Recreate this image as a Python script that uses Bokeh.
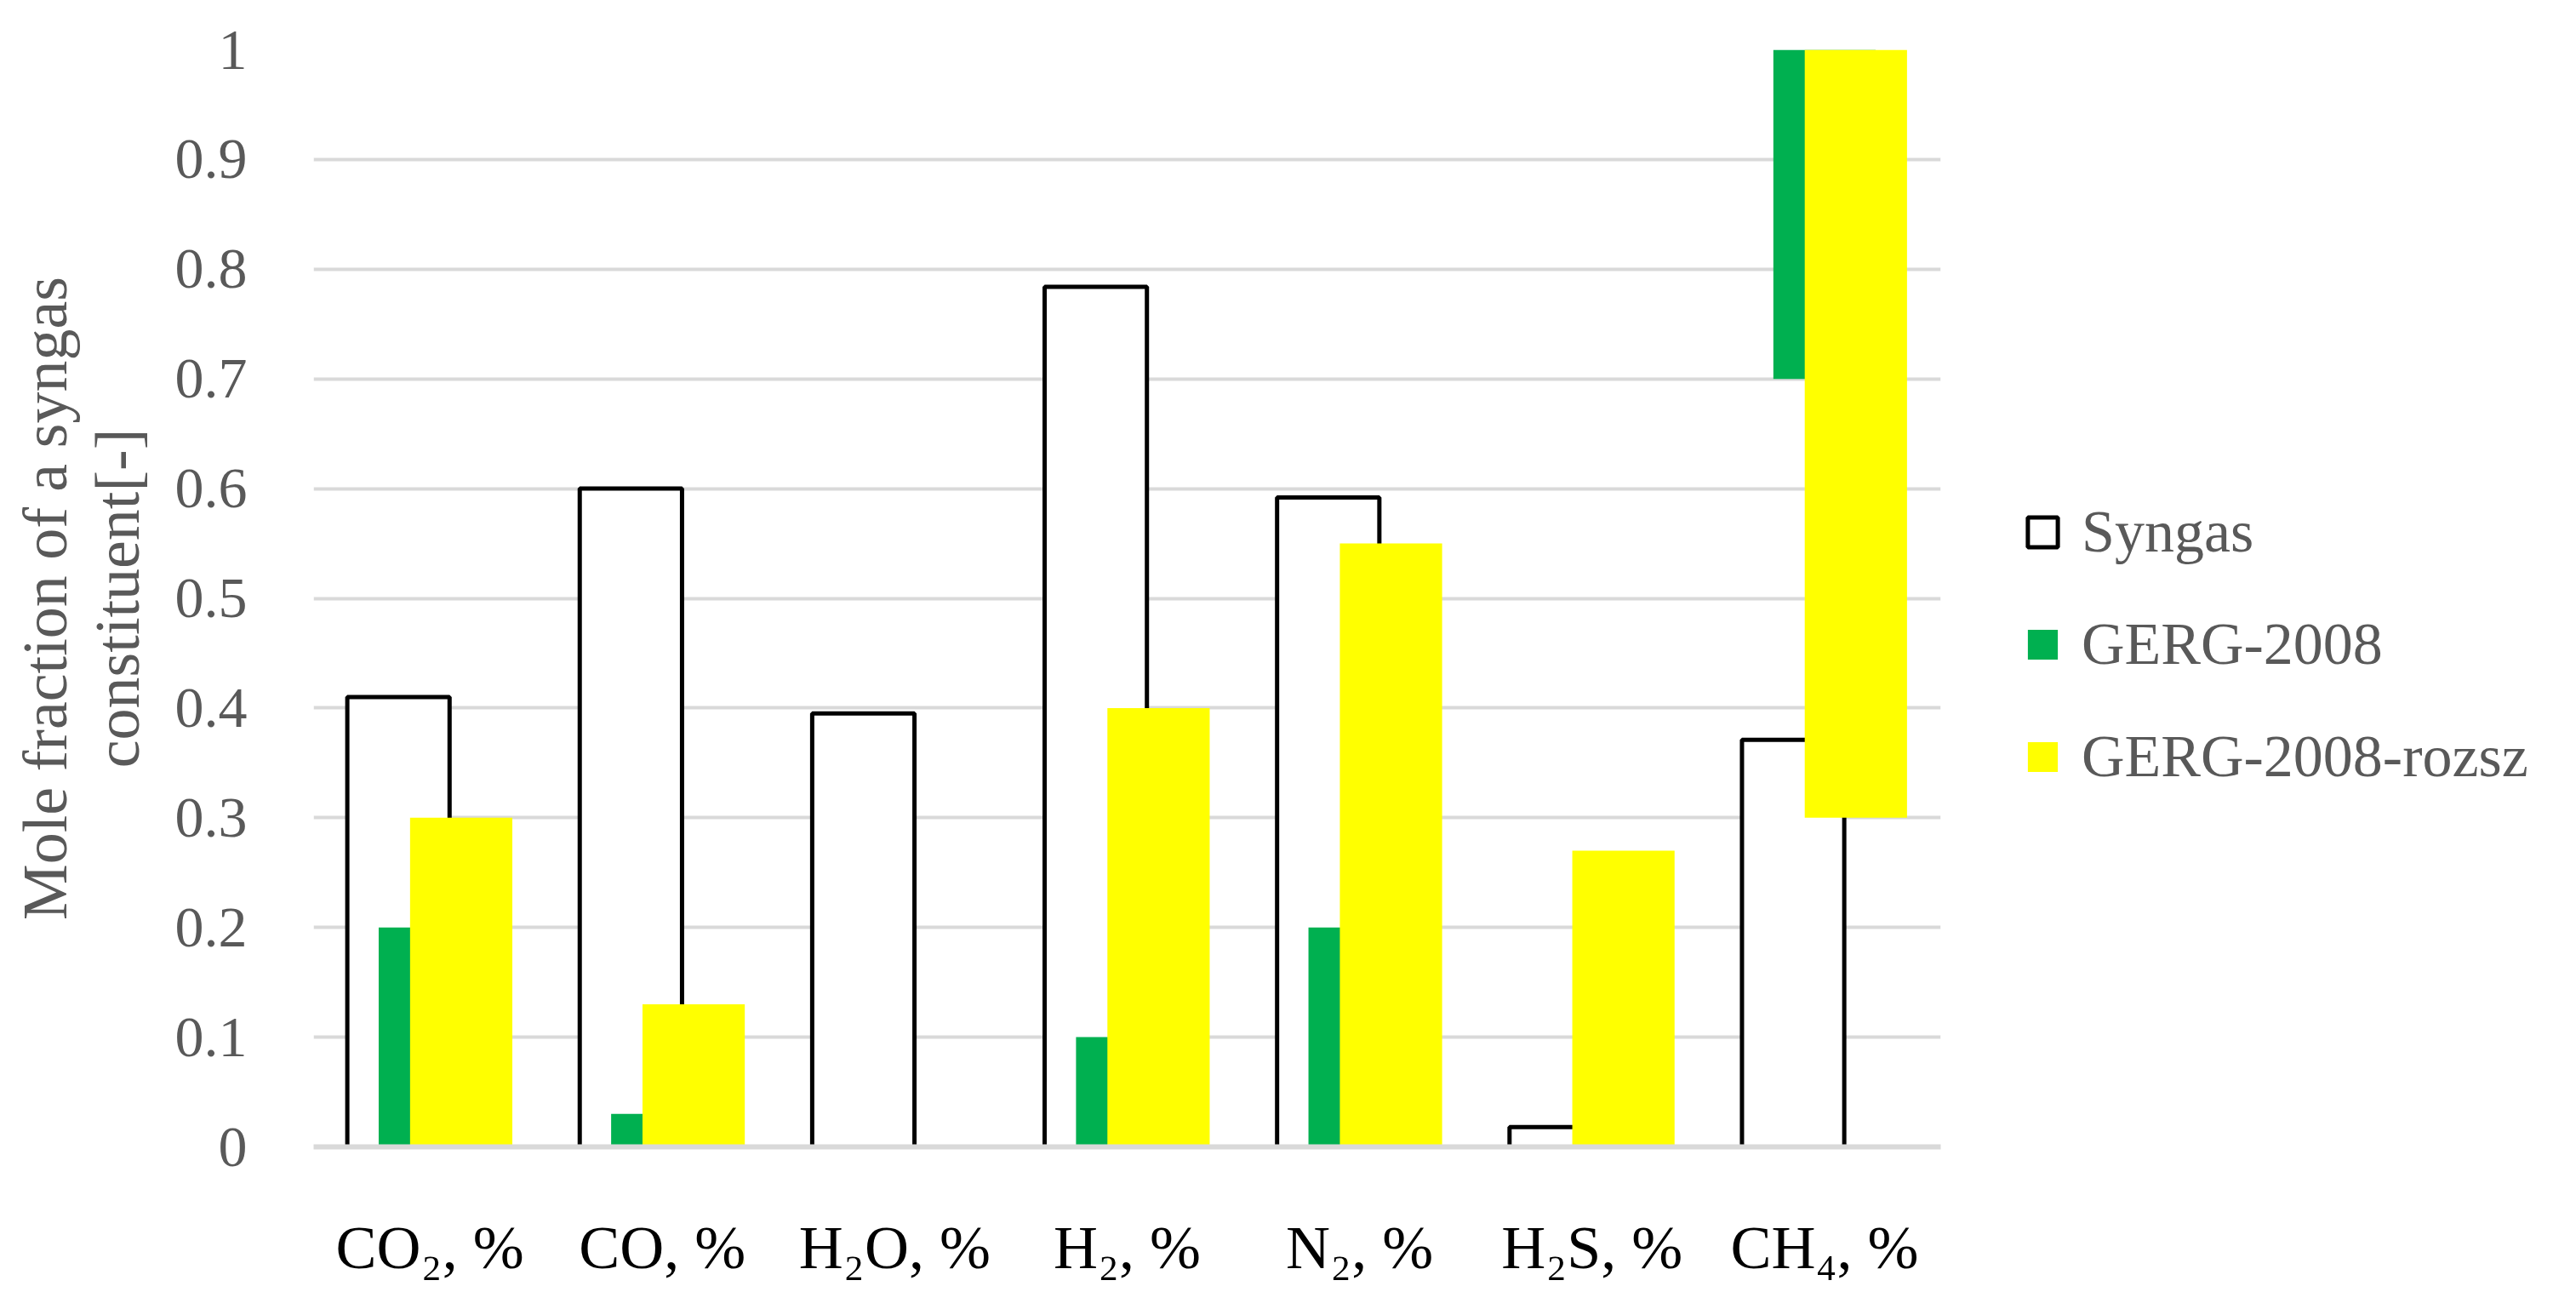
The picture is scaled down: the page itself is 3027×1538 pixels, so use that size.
from bokeh.plotting import figure
from bokeh.models import (FactorRange, Range1d, Legend, LegendItem, ColumnDataSource,
                          FixedTicker, NumeralTickFormatter)
from bokeh.transform import dodge
from bokeh.embed import file_html
from bokeh.resources import INLINE

# ---- data ----
categories = ["CO\u2082, %", "CO, %", "H\u2082O, %", "H\u2082, %", "N\u2082, %", "H\u2082S, %", "CH\u2084, %"]
syngas = [0.41, 0.60, 0.395, 0.784, 0.592, 0.018, 0.371]
gerg_low = [0.0, 0.0, 0.0, 0.0, 0.0, 0.0, 0.70]
gerg_high = [0.20, 0.03, 0.0, 0.10, 0.20, 0.0, 1.00]
rozsz_low = [0.0, 0.0, 0.0, 0.0, 0.0, 0.0, 0.30]
rozsz_high = [0.30, 0.13, 0.0, 0.40, 0.55, 0.27, 1.00]
y_ticks = [0, 0.1, 0.2, 0.3, 0.4, 0.5, 0.6, 0.7, 0.8, 0.9, 1.0]
series_names = ["Syngas", "GERG-2008", "GERG-2008-rozsz"]

src = ColumnDataSource(dict(cat=categories, syngas=syngas, glo=gerg_low, ghi=gerg_high,
                            ylo=rozsz_low, yhi=rozsz_high, zero=[0.0] * len(categories)))

FONT = "Liberation Serif"
GREY = "#595959"
GRID = "#d9d9d9"

p = figure(x_range=FactorRange(*categories), y_range=Range1d(0, 1),
           frame_width=1912, frame_height=1289, output_backend="svg", toolbar_location=None,
           min_border_left=368, min_border_right=0, min_border_top=58,
           min_border_bottom=175)
p.outline_line_color = None
p.background_fill_color = "white"
p.border_fill_color = "white"

off = 0.135
bw = 0.44
r_syn = p.vbar(x=dodge("cat", -off, range=p.x_range), bottom="zero", top="syngas", width=bw,
               source=src, fill_color="white", line_color="black", line_width=5)
r_g = p.vbar(x=dodge("cat", 0.0, range=p.x_range), bottom="glo", top="ghi", width=bw,
             source=src, fill_color="#00b050", line_color=None)
r_y = p.vbar(x=dodge("cat", off, range=p.x_range), bottom="ylo", top="yhi", width=bw,
             source=src, fill_color="#ffff00", line_color=None)

# axes
p.xgrid.grid_line_color = None
p.ygrid.grid_line_color = GRID
p.ygrid.grid_line_width = 4
p.yaxis.ticker = FixedTicker(ticks=y_ticks)
p.yaxis.formatter = NumeralTickFormatter(format="0.[0]")
p.yaxis.axis_line_color = None
p.yaxis.major_tick_line_color = None
p.yaxis.minor_tick_line_color = None
p.yaxis.major_label_text_font = FONT
p.yaxis.major_label_text_font_size = "68px"
p.yaxis.major_label_text_color = GREY
p.yaxis.major_label_standoff = 72
p.yaxis.axis_label = "Mole fraction of a syngas\nconstituent[-]"
p.yaxis.axis_label_text_font = FONT
p.yaxis.axis_label_text_font_size = "74px"
p.yaxis.axis_label_text_font_style = "normal"
p.yaxis.axis_label_text_color = GREY
p.yaxis.axis_label_text_line_height = 1.03
p.yaxis.axis_label_standoff = 24

p.xaxis.axis_line_color = GRID
p.xaxis.axis_line_width = 6
p.xaxis.major_tick_line_color = None
p.xaxis.minor_tick_line_color = None
p.xaxis.major_label_text_font = FONT
p.xaxis.major_label_text_font_size = "72px"
p.xaxis.major_label_text_color = "black"
p.xaxis.major_label_standoff = 72

legend = Legend(items=[LegendItem(label=series_names[0], renderers=[r_syn]),
                       LegendItem(label=series_names[1], renderers=[r_g]),
                       LegendItem(label=series_names[2], renderers=[r_y])],
                location=(98, 418), margin=0, padding=0, spacing=52,
                glyph_width=44, glyph_height=44, label_standoff=24,
                label_text_font=FONT, label_text_font_size="70px", label_text_color=GREY,
                background_fill_alpha=0, border_line_color=None)
p.add_layout(legend, "right")

open("out.html", "w").write(file_html(p, INLINE))
